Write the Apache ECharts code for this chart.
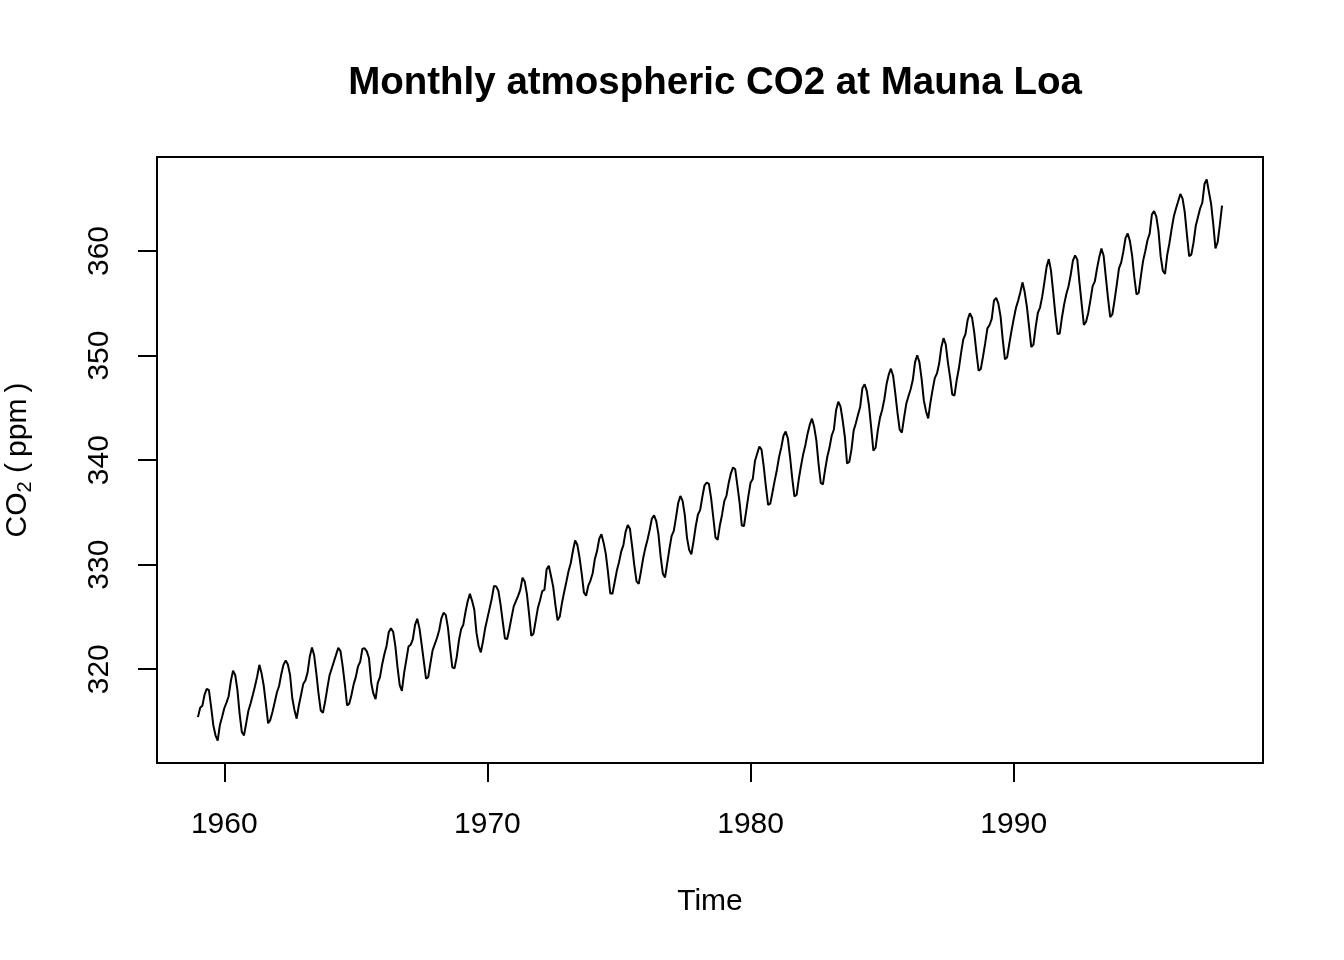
<!DOCTYPE html>
<html>
<head>
<meta charset="utf-8">
<script src="https://cdn.jsdelivr.net/npm/echarts@6/dist/echarts.min.js"></script>
<style>
  html, body { margin: 0; padding: 0; background: #fff; }
  #chart { width: 1344px; height: 960px; }
</style>
</head>
<body>
<div id="chart"></div>
<script>
// Monthly CO2 (ppm), Jan..Dec, one row per year from 1959
const startYear = 1959;
const co2Monthly = [
  315.42, 316.31, 316.50, 317.56, 318.13, 318.00, 316.39, 314.65, 313.68, 313.18, 314.66, 315.43,
  316.27, 316.81, 317.42, 318.87, 319.87, 319.43, 318.01, 315.74, 314.00, 313.68, 314.84, 316.03,
  316.73, 317.54, 318.38, 319.31, 320.42, 319.61, 318.42, 316.63, 314.83, 315.16, 315.94, 316.85,
  317.78, 318.40, 319.53, 320.42, 320.85, 320.45, 319.45, 317.25, 316.11, 315.27, 316.53, 317.53,
  318.58, 318.92, 319.70, 321.22, 322.08, 321.31, 319.58, 317.61, 316.05, 315.83, 316.91, 318.20,
  319.41, 320.07, 320.74, 321.40, 322.06, 321.73, 320.27, 318.54, 316.54, 316.71, 317.53, 318.55,
  319.27, 320.28, 320.73, 321.97, 322.00, 321.71, 321.05, 318.71, 317.66, 317.14, 318.70, 319.25,
  320.46, 321.43, 322.23, 323.54, 323.91, 323.59, 322.24, 320.20, 318.48, 317.94, 319.63, 320.87,
  322.17, 322.34, 322.88, 324.25, 324.83, 323.93, 322.38, 320.76, 319.10, 319.24, 320.56, 321.80,
  322.40, 322.99, 323.73, 324.86, 325.40, 325.20, 323.98, 321.95, 320.18, 320.09, 321.16, 322.74,
  323.83, 324.26, 325.47, 326.50, 327.21, 326.54, 325.72, 323.50, 322.22, 321.62, 322.69, 323.95,
  324.89, 325.82, 326.77, 327.97, 327.91, 327.50, 326.18, 324.53, 322.93, 322.90, 323.85, 324.96,
  326.01, 326.51, 327.01, 327.62, 328.76, 328.40, 327.20, 325.27, 323.20, 323.40, 324.63, 325.85,
  326.60, 327.47, 327.58, 329.56, 329.90, 328.92, 327.88, 326.16, 324.68, 325.04, 326.34, 327.39,
  328.37, 329.40, 330.14, 331.33, 332.31, 331.90, 330.70, 329.15, 327.35, 327.02, 327.99, 328.48,
  329.18, 330.55, 331.32, 332.48, 332.92, 332.08, 331.01, 329.23, 327.27, 327.21, 328.29, 329.41,
  330.23, 331.25, 331.87, 333.14, 333.80, 333.43, 331.73, 329.90, 328.40, 328.17, 329.32, 330.59,
  331.58, 332.39, 333.33, 334.41, 334.71, 334.17, 332.89, 330.77, 329.14, 328.78, 330.14, 331.52,
  332.75, 333.24, 334.53, 335.90, 336.57, 336.10, 334.76, 332.59, 331.42, 330.98, 332.24, 333.68,
  334.80, 335.22, 336.47, 337.59, 337.84, 337.72, 336.37, 334.51, 332.60, 332.38, 333.75, 334.78,
  336.05, 336.59, 337.79, 338.71, 339.30, 339.12, 337.56, 335.92, 333.75, 333.70, 335.12, 336.56,
  337.84, 338.19, 339.91, 340.60, 341.29, 341.00, 339.39, 337.43, 335.72, 335.84, 336.93, 338.04,
  339.06, 340.30, 341.21, 342.33, 342.74, 342.08, 340.32, 338.26, 336.52, 336.68, 338.19, 339.44,
  340.57, 341.44, 342.53, 343.39, 343.96, 343.18, 341.88, 339.65, 337.81, 337.69, 339.09, 340.32,
  341.20, 342.35, 342.93, 344.77, 345.58, 345.14, 343.81, 342.21, 339.69, 339.82, 340.98, 342.82,
  343.52, 344.33, 345.11, 346.88, 347.25, 346.62, 345.22, 343.11, 340.90, 341.18, 342.80, 344.04,
  344.79, 345.82, 347.25, 348.17, 348.74, 348.07, 346.38, 344.51, 342.92, 342.62, 344.06, 345.38,
  346.11, 346.78, 347.68, 349.37, 350.03, 349.37, 347.76, 345.73, 344.68, 343.99, 345.48, 346.72,
  347.84, 348.29, 349.23, 350.80, 351.66, 351.07, 349.33, 347.92, 346.27, 346.18, 347.64, 348.78,
  350.25, 351.54, 352.05, 353.41, 354.04, 353.62, 352.22, 350.27, 348.55, 348.72, 349.91, 351.18,
  352.60, 352.92, 353.53, 355.26, 355.52, 354.97, 353.75, 351.52, 349.64, 349.83, 351.14, 352.37,
  353.50, 354.55, 355.23, 356.04, 357.00, 356.07, 354.67, 352.76, 350.82, 351.04, 352.69, 354.07,
  354.59, 355.63, 357.03, 358.48, 359.22, 358.12, 356.06, 353.92, 352.05, 352.11, 353.64, 354.89,
  355.88, 356.63, 357.72, 359.07, 359.58, 359.17, 356.94, 354.92, 352.94, 353.23, 354.09, 355.33,
  356.63, 357.10, 358.32, 359.41, 360.23, 359.55, 357.53, 355.48, 353.67, 353.95, 355.30, 356.78,
  358.34, 358.89, 359.95, 361.25, 361.67, 360.94, 359.55, 357.49, 355.84, 356.00, 357.59, 359.05,
  359.98, 361.03, 361.66, 363.48, 363.82, 363.30, 361.94, 359.50, 358.11, 357.80, 359.61, 360.74,
  362.09, 363.29, 364.06, 364.76, 365.45, 365.01, 363.70, 361.54, 359.51, 359.65, 360.80, 362.38,
  363.23, 364.06, 364.61, 366.40, 366.84, 365.68, 364.52, 362.57, 360.24, 360.83, 362.49, 364.34
];
const xTicks = [1960, 1970, 1980, 1990];
const yTicks = [320, 330, 340, 350, 360];

const chartEl = document.getElementById('chart');
const chart = echarts.init(chartEl, null, { renderer: 'canvas' });

const seriesData = co2Monthly.map((v, i) => [startYear + i / 12, v]);

// R-style 4% padding on both axes
const pad = (lo, hi) => {
  const d = (hi - lo) * 0.04;
  return [lo - d, hi + d];
};
const xs = seriesData.map(p => p[0]);
const [xMin, xMax] = pad(Math.min(...xs), Math.max(...xs));
const [yMin, yMax] = pad(Math.min(...co2Monthly), Math.max(...co2Monthly));

const font = 'Liberation Sans, Arial, Helvetica, sans-serif';

const option = {
  animation: false,
  backgroundColor: '#fff',
  textStyle: { fontFamily: font, color: '#000' },
  title: {
    text: 'Monthly atmospheric CO2 at Mauna Loa',
    left: 710,
    top: 59,
    textAlign: 'center',
    textStyle: { fontSize: 38.5, fontWeight: 'bold', color: '#000', fontFamily: font }
  },
  grid: {
    left: 157,
    right: 81,
    top: 157,
    bottom: 197,
    outerBoundsMode: 'none',
    containLabel: false,
    show: true,
    borderColor: '#000',
    borderWidth: 2,
    backgroundColor: 'transparent'
  },
  xAxis: {
    type: 'value',
    min: xMin,
    max: xMax,
    name: 'Time',
    nameLocation: 'middle',
    nameGap: 124,
    nameTextStyle: { fontSize: 30, color: '#000', fontFamily: font },
    axisLine: { show: false },
    splitLine: { show: false },
    axisTick: {
      show: true,
      inside: false,
      length: 19,
      customValues: xTicks,
      lineStyle: { color: '#000', width: 2 }
    },
    axisLabel: {
      show: true,
      customValues: xTicks,
      formatter: v => String(v),
      margin: 47,
      fontSize: 30,
      color: '#000',
      fontFamily: font
    }
  },
  yAxis: {
    type: 'value',
    min: yMin,
    max: yMax,
    name: 'CO{sub|2} (\u2009ppm\u2009)',
    nameLocation: 'middle',
    nameRotate: 90,
    nameGap: 122,
    nameTextStyle: {
      fontSize: 30,
      color: '#000',
      fontFamily: font,
      rich: {
        sub: { fontSize: 20, fontFamily: font, color: '#000', verticalAlign: 'bottom', padding: [14, 0, 0, 0] }
      }
    },
    axisLine: { show: false },
    splitLine: { show: false },
    axisTick: {
      show: true,
      inside: false,
      length: 19,
      customValues: yTicks,
      lineStyle: { color: '#000', width: 2 }
    },
    axisLabel: {
      show: true,
      customValues: yTicks,
      formatter: v => String(v),
      rotate: 90,
      margin: 42,
      fontSize: 30,
      color: '#000',
      fontFamily: font
    }
  },
  series: [
    {
      type: 'line',
      data: seriesData,
      showSymbol: false,
      symbol: 'none',
      lineStyle: { color: '#000', width: 2 },
      clip: true
    }
  ]
};

chart.setOption(option);
</script>
</body>
</html>
